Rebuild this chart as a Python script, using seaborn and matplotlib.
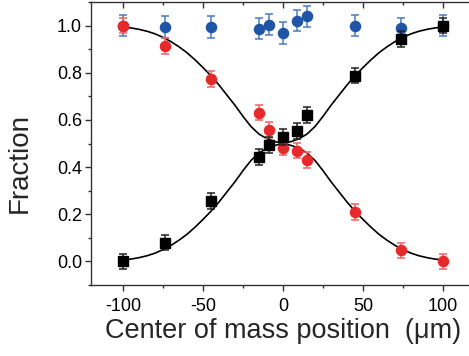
import numpy as np
import pandas as pd
import matplotlib
matplotlib.use("Agg")
import matplotlib.pyplot as plt
from matplotlib.ticker import MultipleLocator
import seaborn as sns

# measured points
position = [-100, -74, -45, -15, -9, 0, 9, 15, 45, 74, 100]
black_frac = [0.0, 0.08, 0.257, 0.442, 0.494, 0.527, 0.554, 0.622, 0.788, 0.942, 1.0]
black_err = [0.033, 0.033, 0.033, 0.033, 0.033, 0.033, 0.033, 0.033, 0.033, 0.033, 0.033]
red_frac = [1.0, 0.914, 0.773, 0.631, 0.558, 0.483, 0.47, 0.431, 0.209, 0.047, 0.0]
red_err = [0.033, 0.033, 0.033, 0.033, 0.033, 0.033, 0.033, 0.033, 0.033, 0.033, 0.033]
blue_frac = [1.0, 0.994, 0.994, 0.987, 1.003, 0.969, 1.02, 1.039, 0.999, 0.989, 1.0]
blue_err = [0.045, 0.045, 0.045, 0.045, 0.045, 0.045, 0.045, 0.045, 0.045, 0.045, 0.045]

# fitted curves
curve_x = [-100, -95, -90, -85, -80, -75, -70, -65, -60, -55, -50, -45, -40, -35,
           -30, -25, -20, -15, -10, -5, 0, 5, 10, 15, 20, 25, 30, 35, 40, 45,
           50, 55, 60, 65, 70, 75, 80, 85, 90, 95, 100]
black_fit = [0.006, 0.010, 0.016, 0.024, 0.035, 0.050, 0.068, 0.090, 0.115, 0.145,
             0.178, 0.213, 0.252, 0.295, 0.338, 0.385, 0.428, 0.460, 0.480, 0.492,
             0.500, 0.508, 0.520, 0.540, 0.572, 0.615, 0.662, 0.705, 0.748, 0.787,
             0.822, 0.855, 0.885, 0.910, 0.932, 0.950, 0.965, 0.976, 0.984, 0.990,
             0.994]
red_fit = [0.994, 0.990, 0.984, 0.976, 0.965, 0.950, 0.932, 0.910, 0.885, 0.855,
           0.822, 0.787, 0.748, 0.705, 0.662, 0.615, 0.572, 0.540, 0.520, 0.508,
           0.500, 0.492, 0.480, 0.460, 0.428, 0.385, 0.338, 0.295, 0.252, 0.213,
           0.178, 0.145, 0.115, 0.090, 0.068, 0.050, 0.035, 0.024, 0.016, 0.010,
           0.006]

sns.set_style("ticks")
plt.rcParams['font.family'] = ['Liberation Sans', 'DejaVu Sans']
plt.rcParams['axes.unicode_minus'] = False

fig = plt.figure(figsize=(4.69, 3.56), dpi=100)
ax = fig.add_axes([0.194, 0.1994, 0.8188, 0.795])

fits = pd.DataFrame({'x': curve_x, 'black': black_fit, 'red': red_fit})
sns.lineplot(data=fits, x='x', y='black', color='black', lw=1.2, ax=ax, zorder=2)
sns.lineplot(data=fits, x='x', y='red', color='black', lw=1.2, ax=ax, zorder=2)

blue = '#1f55a6'
red = '#e8292c'
ax.errorbar(position, blue_frac, yerr=blue_err, fmt='o', color=blue, ms=7.3,
            capsize=3, elinewidth=1.1, capthick=1.1, ecolor='#4a7bc0', zorder=3)
ax.errorbar(position, red_frac, yerr=red_err, fmt='o', color=red, ms=7.3,
            capsize=3, elinewidth=1.1, capthick=1.1, ecolor='#ef6062', zorder=4)
ax.errorbar(position, black_frac, yerr=black_err, fmt='s', color='black', ms=6.5,
            capsize=3, elinewidth=1.1, capthick=1.1, ecolor='#222222', zorder=5)

ax.set_xlim(-120, 120)
ax.set_ylim(-0.1, 1.1)
ax.xaxis.set_major_locator(MultipleLocator(50))
ax.xaxis.set_minor_locator(MultipleLocator(25))
ax.yaxis.set_major_locator(MultipleLocator(0.2))
ax.yaxis.set_minor_locator(MultipleLocator(0.1))
ax.yaxis.set_major_formatter(matplotlib.ticker.FormatStrFormatter('%.1f'))

for s in ax.spines.values():
    s.set_visible(True)
    s.set_color('#333333')
    s.set_linewidth(1.0)

ax.tick_params(which='both', direction='out', colors='#333333', labelcolor='black',
               labelsize=13, top=True, right=True, width=1.0)
ax.tick_params(which='major', length=4.5, pad=2)
ax.tick_params(axis='x', which='major', pad=5)
ax.tick_params(which='minor', length=2.5)
ax.tick_params(axis='x', which='both', top=True, labeltop=False)
for t in ax.xaxis.get_ticklines(minor=False)[1::2] + ax.xaxis.get_ticklines(minor=True)[1::2]:
    t.set_marker(3)  # top ticks pointing inward

ax.set_xlabel('Center of mass position  (\u03bcm)', fontsize=19.5, labelpad=2)
ax.set_ylabel('Fraction', fontsize=20)
ax.yaxis.set_label_coords(-0.152, 0.43)

fig.savefig('out.png', dpi=100)
